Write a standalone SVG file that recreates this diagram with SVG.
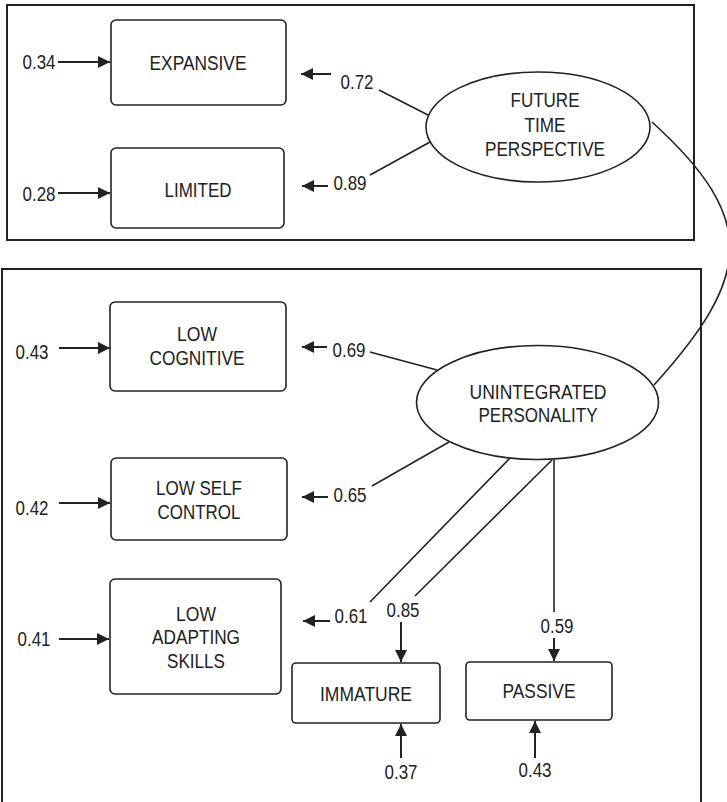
<svg xmlns="http://www.w3.org/2000/svg" width="727" height="802" viewBox="0 0 727 802">
<style>
  .frame{fill:none;stroke:#222;stroke-width:2}
  .box{fill:#fff;stroke:#222;stroke-width:1.6}
  .ell{fill:#fff;stroke:#222;stroke-width:1.6}
  .t{font-family:"Liberation Sans",Arial,sans-serif;font-size:19.5px;fill:#222;text-anchor:middle}
  .ln{stroke:#222;stroke-width:1.6;fill:none}
  .ar{stroke:#222;stroke-width:2;fill:none;marker-end:url(#ah)}
</style>
<defs>
  <marker id="ah" markerUnits="userSpaceOnUse" markerWidth="13" markerHeight="12" refX="12" refY="6" orient="auto">
    <path d="M0,0 L12,6 L0,12 z" fill="#222"/>
  </marker>
</defs>
<rect width="727" height="802" fill="#fff"/>
<rect class="frame" x="7" y="5" width="687" height="235"/>
<rect class="frame" x="2" y="269" width="699" height="540"/>

<g id="connectors">
  <path class="ln" d="M652,122 C759.5,219.7 751.5,277 654,385"/>
  <line class="ln" x1="379" y1="90" x2="428" y2="115"/>
  <line class="ln" x1="370" y1="175" x2="430" y2="142"/>
  <line class="ln" x1="370" y1="352" x2="437" y2="370"/>
  <line class="ln" x1="372" y1="486" x2="449" y2="442"/>
  <line class="ln" x1="510" y1="458" x2="370" y2="602"/>
  <line class="ln" x1="552" y1="460" x2="415" y2="596"/>
  <line class="ln" x1="554" y1="460" x2="554" y2="612"/>
  <line class="ar" x1="58" y1="62" x2="110" y2="62"/>
  <line class="ar" x1="58" y1="193" x2="110" y2="193"/>
  <line class="ar" x1="59" y1="348" x2="110" y2="348"/>
  <line class="ar" x1="59" y1="503" x2="110" y2="503"/>
  <line class="ar" x1="59" y1="639" x2="109" y2="639"/>
  <line class="ar" x1="331" y1="74" x2="301" y2="74"/>
  <line class="ar" x1="328" y1="186" x2="302" y2="186"/>
  <line class="ar" x1="327" y1="347" x2="302" y2="347"/>
  <line class="ar" x1="328" y1="497" x2="302" y2="497"/>
  <line class="ar" x1="330" y1="621" x2="303" y2="621"/>
  <line class="ar" x1="401" y1="622" x2="401" y2="662"/>
  <line class="ar" x1="554" y1="638" x2="554" y2="661"/>
  <line class="ar" x1="401" y1="758" x2="401" y2="724"/>
  <line class="ar" x1="535" y1="758" x2="535" y2="721"/>
  <text class="t" x="39" y="69" textLength="33" lengthAdjust="spacingAndGlyphs">0.34</text>
  <text class="t" x="39" y="201" textLength="33" lengthAdjust="spacingAndGlyphs">0.28</text>
  <text class="t" x="32" y="359" textLength="33" lengthAdjust="spacingAndGlyphs">0.43</text>
  <text class="t" x="32" y="515" textLength="33" lengthAdjust="spacingAndGlyphs">0.42</text>
  <text class="t" x="34" y="646" textLength="33" lengthAdjust="spacingAndGlyphs">0.41</text>
  <text class="t" x="357" y="89" textLength="33" lengthAdjust="spacingAndGlyphs">0.72</text>
  <text class="t" x="350" y="190" textLength="33" lengthAdjust="spacingAndGlyphs">0.89</text>
  <text class="t" x="349" y="357" textLength="33" lengthAdjust="spacingAndGlyphs">0.69</text>
  <text class="t" x="350" y="502" textLength="33" lengthAdjust="spacingAndGlyphs">0.65</text>
  <text class="t" x="351" y="623" textLength="33" lengthAdjust="spacingAndGlyphs">0.61</text>
  <text class="t" x="403" y="617" textLength="33" lengthAdjust="spacingAndGlyphs">0.85</text>
  <text class="t" x="557" y="633" textLength="33" lengthAdjust="spacingAndGlyphs">0.59</text>
  <text class="t" x="401" y="779" textLength="33" lengthAdjust="spacingAndGlyphs">0.37</text>
  <text class="t" x="535" y="777" textLength="33" lengthAdjust="spacingAndGlyphs">0.43</text>
</g>

<g id="expansive">
  <rect class="box" x="111" y="20" width="175" height="85" rx="5"/>
  <text class="t" x="198" y="70" textLength="97" lengthAdjust="spacingAndGlyphs">EXPANSIVE</text>
</g>
<g id="limited">
  <rect class="box" x="111" y="148" width="173" height="80" rx="5"/>
  <text class="t" x="198" y="197" textLength="67" lengthAdjust="spacingAndGlyphs">LIMITED</text>
</g>
<g id="future-time-perspective">
  <ellipse class="ell" cx="538" cy="127" rx="112" ry="55"/>
  <text class="t" x="545" y="107" textLength="69" lengthAdjust="spacingAndGlyphs">FUTURE</text>
  <text class="t" x="545" y="132" textLength="41" lengthAdjust="spacingAndGlyphs">TIME</text>
  <text class="t" x="545" y="156" textLength="120" lengthAdjust="spacingAndGlyphs">PERSPECTIVE</text>
</g>
<g id="low-cognitive">
  <rect class="box" x="110" y="302" width="176" height="89" rx="5"/>
  <text class="t" x="197" y="341" textLength="40" lengthAdjust="spacingAndGlyphs">LOW</text>
  <text class="t" x="197" y="365" textLength="95" lengthAdjust="spacingAndGlyphs">COGNITIVE</text>
</g>
<g id="low-self-control">
  <rect class="box" x="111" y="458" width="176" height="82" rx="5"/>
  <text class="t" x="199" y="495" textLength="86" lengthAdjust="spacingAndGlyphs">LOW SELF</text>
  <text class="t" x="199" y="519" textLength="83" lengthAdjust="spacingAndGlyphs">CONTROL</text>
</g>
<g id="low-adapting-skills">
  <rect class="box" x="110" y="579" width="171" height="115" rx="5"/>
  <text class="t" x="196" y="621" textLength="40" lengthAdjust="spacingAndGlyphs">LOW</text>
  <text class="t" x="196" y="644" textLength="88" lengthAdjust="spacingAndGlyphs">ADAPTING</text>
  <text class="t" x="196" y="668" textLength="58" lengthAdjust="spacingAndGlyphs">SKILLS</text>
</g>
<g id="unintegrated-personality">
  <ellipse class="ell" cx="537.5" cy="402.5" rx="121" ry="57"/>
  <text class="t" x="538" y="399" textLength="137" lengthAdjust="spacingAndGlyphs">UNINTEGRATED</text>
  <text class="t" x="538" y="422" textLength="119" lengthAdjust="spacingAndGlyphs">PERSONALITY</text>
</g>
<g id="immature">
  <rect class="box" x="292" y="663" width="148" height="60" rx="4"/>
  <text class="t" x="366" y="701" textLength="92" lengthAdjust="spacingAndGlyphs">IMMATURE</text>
</g>
<g id="passive">
  <rect class="box" x="466" y="662" width="146" height="58" rx="4"/>
  <text class="t" x="539" y="698" textLength="73" lengthAdjust="spacingAndGlyphs">PASSIVE</text>
</g>
</svg>
